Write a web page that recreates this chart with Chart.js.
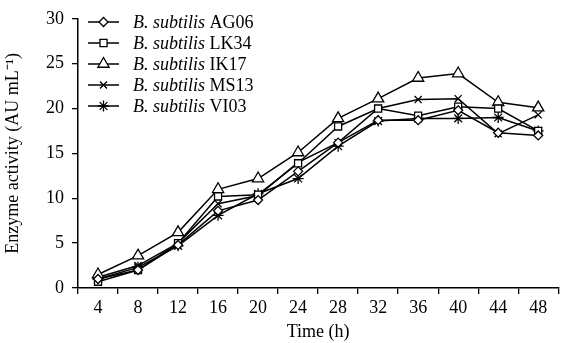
<!DOCTYPE html>
<html>
<head>
<meta charset="utf-8">
<script src="https://cdn.jsdelivr.net/npm/chart.js@4/dist/chart.umd.min.js"></script>
<style>
  html, body { margin: 0; padding: 0; background: #fff; }
  #wrap { width: 566px; height: 343px; }
</style>
</head>
<body>
<div id="wrap"><canvas id="lineChart"></canvas></div>
<script>
var hours = ["4", "8", "12", "16", "20", "24", "28", "32", "36", "40", "44", "48"];
var yTicks = [0, 5, 10, 15, 20, 25, 30];

var strainNames = ["AG06", "LK34", "IK17", "MS13", "VI03"];
var ag06 = [1.0, 2.0, 4.8, 8.6, 9.8, 13.0, 16.2, 18.7, 18.7, 19.8, 17.3, 17.0];
var lk34 = [0.7, 2.0, 5.0, 10.2, 10.4, 13.9, 18.0, 20.0, 19.2, 20.2, 20.0, 17.5];
var ik17 = [1.5, 3.6, 6.2, 11.0, 12.2, 15.1, 18.9, 21.1, 23.4, 23.9, 20.7, 20.1];
var ms13 = [1.2, 2.5, 5.0, 9.4, 10.3, 14.0, 16.2, 20.0, 21.0, 21.1, 17.2, 19.3];
var vi03 = [1.0, 2.3, 4.7, 8.1, 10.5, 12.2, 15.8, 18.6, 18.9, 18.9, 19.0, 17.5];

var serif = "'Liberation Serif', 'Times New Roman', serif";
var fontSize = 18;

function series(name, values, style, radius) {
  return {
    label: name,
    data: values,
    borderColor: "#000",
    backgroundColor: "#fff",
    borderWidth: 1.5,
    pointStyle: style,
    pointRadius: radius,
    pointBorderColor: "#000",
    pointBackgroundColor: "#fff",
    pointBorderWidth: 1.3,
    tension: 0,
  };
}

// legend drawn by hand so "B. subtilis" can be italic
var legendPlugin = {
  id: "strainLegend",
  afterDraw: function (chart) {
    var c = chart.ctx;
    var x0 = 88, x1 = 119, tx = 133, y = 22, step = 21;
    chart.data.datasets.forEach(function (ds, i) {
      var yy = y + i * step;
      c.save();
      c.strokeStyle = "#000";
      c.lineWidth = 1.5;
      c.beginPath();
      c.moveTo(x0, yy);
      c.lineTo(x1, yy);
      c.stroke();
      c.fillStyle = "#fff";
      c.lineWidth = 1.3;
      Chart.helpers.drawPoint(c, { pointStyle: ds.pointStyle, radius: ds.pointRadius, rotation: 0, borderWidth: 1.3 }, (x0 + x1) / 2, yy);
      c.fillStyle = "#000";
      c.textBaseline = "middle";
      c.font = "italic " + fontSize + "px " + serif;
      c.fillText("B. subtilis", tx, yy + 1);
      var w = c.measureText("B. subtilis ").width;
      c.font = fontSize + "px " + serif;
      c.fillText(ds.label, tx + w, yy + 1);
      c.restore();
    });
  },
};

var ctx = document.getElementById("lineChart").getContext("2d");

var chart = new Chart(ctx, {
  type: "line",
  data: {
    labels: hours,
    datasets: [
      series(strainNames[0], ag06, "rectRot", 4.5),
      series(strainNames[1], lk34, "rect", 5),
      series(strainNames[2], ik17, "triangle", 6.5),
      series(strainNames[3], ms13, "crossRot", 5),
      series(strainNames[4], vi03, "star", 5.5),
    ],
  },
  options: {
    responsive: true,
    maintainAspectRatio: false,
    animation: false,
    layout: { padding: { top: 15, right: 0, left: 0, bottom: 0 } },
    plugins: {
      legend: { display: false },
      tooltip: { enabled: false },
    },
    scales: {
      x: {
        offset: true,
        grid: {
          display: true,
          drawOnChartArea: false,
          drawTicks: true,
          tickLength: 6,
          offset: true,
          color: "#000",
          lineWidth: 1.3,
        },
        border: { display: true, color: "#000", width: 1.5 },
        ticks: {
          color: "#000",
          padding: 3,
          maxRotation: 0,
          autoSkip: false,
          font: { family: serif, size: fontSize },
        },
        title: {
          display: true,
          text: "Time (h)",
          color: "#000",
          padding: { top: 2, bottom: 0 },
          font: { family: serif, size: fontSize },
        },
        afterFit: function (s) { s.height = 55; },
      },
      y: {
        min: 0,
        max: 30,
        afterBuildTicks: function (s) {
          s.ticks = yTicks.map(function (v) { return { value: v }; });
        },
        grid: {
          display: true,
          drawOnChartArea: false,
          drawTicks: true,
          tickLength: 6,
          color: "#000",
          lineWidth: 1.3,
        },
        border: { display: true, color: "#000", width: 1.5 },
        ticks: {
          color: "#000",
          padding: 8,
          font: { family: serif, size: fontSize },
        },
        title: {
          display: true,
          text: "Enzyme activity (AU mL\u207B\u00B9)",
          color: "#000",
          padding: { top: 2, bottom: 4 },
          font: { family: serif, size: fontSize },
        },
        afterFit: function (s) { s.width = 78; },
      },
    },
  },
  plugins: [legendPlugin],
});
</script>
</body>
</html>
